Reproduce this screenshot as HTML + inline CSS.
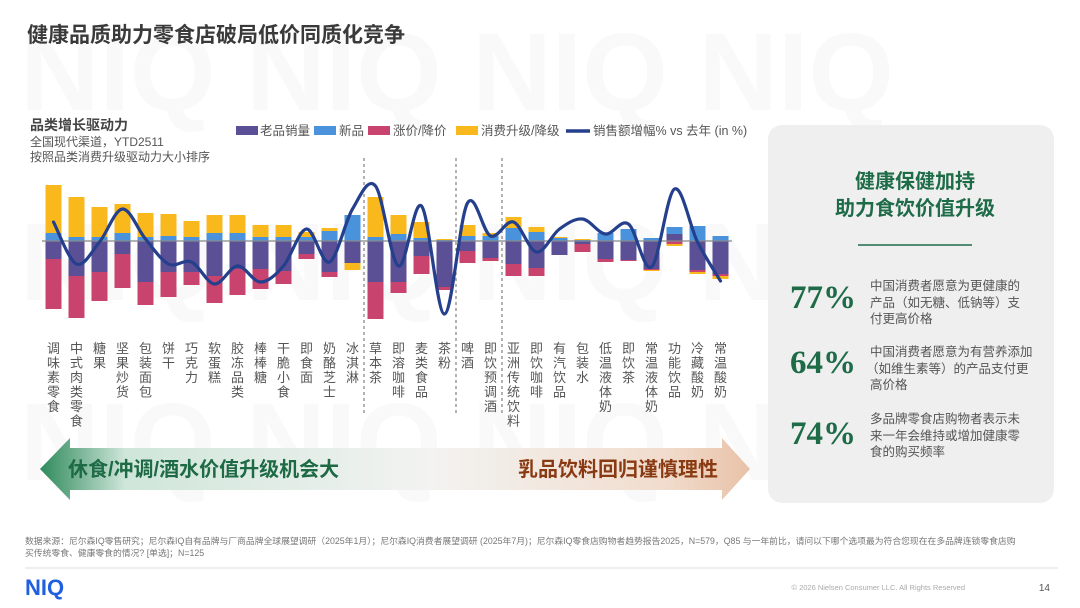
<!DOCTYPE html>
<html><head><meta charset="utf-8">
<style>
html,body{margin:0;padding:0;background:#fff;}
body{width:1080px;height:608px;position:relative;overflow:hidden;font-family:"Liberation Sans","Noto Sans CJK SC",sans-serif;}
svg{position:absolute;left:0;top:0;}
</style></head>
<body>
<svg id="page" width="1080" height="608" viewBox="0 0 1080 608">
<defs>
<linearGradient id="arrowGrad" x1="0" x2="1" y1="0" y2="0">
<stop offset="0" stop-color="#2f8a5c"/><stop offset="0.12" stop-color="#cfe6da"/>
<stop offset="0.55" stop-color="#f3f3f1"/><stop offset="0.88" stop-color="#f1dccd"/><stop offset="1" stop-color="#e8c2a8"/>
</linearGradient>
</defs>
<g fill="#f9f9f9" font-weight="bold" font-size="110" font-family="Liberation Sans, sans-serif">
<text x="20" y="110">NIQ NIQ NIQ NIQ</text>
<text x="20" y="300">NIQ NIQ NIQ NIQ</text>
<text x="20" y="480">NIQ NIQ NIQ NIQ</text>
</g>
<text x="27" y="42" font-size="21" font-weight="bold" fill="#3a3a3a">健康品质助力零食店破局低价同质化竞争</text>

<text x="30" y="130" font-size="14" font-weight="bold" fill="#444">品类增长驱动力</text>
<text x="30" y="146" font-size="12" fill="#555">全国现代渠道，YTD2511</text>
<text x="30" y="161" font-size="12" fill="#555">按照品类消费升级驱动力大小排序</text>

<g id="legend" font-size="12.5" fill="#555">
<rect x="236" y="126" width="22" height="9" fill="#5b4f96"/>
<text x="260" y="135">老品销量</text>
<rect x="314" y="126" width="22" height="9" fill="#4a93dc"/>
<text x="339" y="135">新品</text>
<rect x="368" y="126" width="22" height="9" fill="#c8446f"/>
<text x="393" y="135">涨价/降价</text>
<rect x="456" y="126" width="22" height="9" fill="#f9b91c"/>
<text x="481" y="135">消费升级/降级</text>
<line x1="566" y1="131" x2="590" y2="131" stroke="#243f8c" stroke-width="3.5"/>
<text x="593" y="135">销售额增幅% vs 去年 (in %)</text>
</g>

<g id="chart"></g>

<g>
<polygon points="40,469 70,438 70,448 722,448 722,438 750,469 722,500 722,490 70,490 70,500" fill="url(#arrowGrad)"/>
<text x="68" y="476" font-size="20" font-weight="bold" fill="#1d6a45">休食/冲调/酒水价值升级机会大</text>
<text x="718" y="476" text-anchor="end" font-size="20" font-weight="bold" fill="#8a3a12">乳品饮料回归谨慎理性</text>
</g>

<g>
<rect x="768" y="125" width="286" height="378" rx="14" fill="#efefef"/>
<text x="915" y="188" text-anchor="middle" font-size="20" font-weight="bold" fill="#1e6b48">健康保健加持</text>
<text x="915" y="215" text-anchor="middle" font-size="20" font-weight="bold" fill="#1e6b48">助力食饮价值升级</text>
<line x1="858" y1="245" x2="972" y2="245" stroke="#1e6b48" stroke-width="1.5"/>
<g font-family="Liberation Serif, serif" font-weight="bold" font-size="33" fill="#1e6b48">
<text x="790" y="308">77%</text>
<text x="790" y="373">64%</text>
<text x="790" y="444">74%</text>
</g>
<g font-size="12.5" fill="#555">
<text><tspan x="870" y="290">中国消费者愿意为更健康的</tspan><tspan x="870" y="307">产品（如无糖、低钠等）支</tspan><tspan x="870" y="323">付更高价格</tspan></text>
<text><tspan x="870" y="356">中国消费者愿意为有营养添加</tspan><tspan x="866" y="373">（如维生素等）的产品支付更</tspan><tspan x="870" y="389">高价格</tspan></text>
<text><tspan x="870" y="423">多品牌零食店购物者表示未</tspan><tspan x="870" y="440">来一年会维持或增加健康零</tspan><tspan x="870" y="456">食的购买频率</tspan></text>
</g>
</g>

<g>
<text font-size="8.8" fill="#777"><tspan x="25" y="544">数据来源：尼尔森IQ零售研究；尼尔森IQ自有品牌与厂商品牌全球展望调研（2025年1月）；尼尔森IQ消费者展望调研 (2025年7月)；尼尔森IQ零食店购物者趋势报告2025，N=579，Q85 与一年前比，请问以下哪个选项最为符合您现在在多品牌连锁零食店购</tspan><tspan x="25" y="556">买传统零食、健康零食的情况? [单选]；N=125</tspan></text>
<line x1="25" y1="568" x2="1058" y2="568" stroke="#ddd" stroke-width="1"/>
<text x="25" y="595" font-size="22" font-weight="bold" fill="#1f5fe0">NIQ</text>
<text x="965" y="590" text-anchor="end" font-size="7.5" fill="#aaa">© 2026 Nielsen Consumer LLC. All Rights Reserved</text>
<text x="1050" y="591" text-anchor="end" font-size="10" fill="#555">14</text>
</g>
</svg>
<script>
const categories = ["调味素零食","中式肉类零食","糖果","坚果炒货","包装面包","饼干","巧克力","软蛋糕","胶冻品类","棒棒糖","干脆小食","即食面","奶酪芝士","冰淇淋","草本茶","即溶咖啡","麦类食品","茶粉","啤酒","即饮预调酒","亚洲传统饮料","即饮咖啡","有汽饮品","包装水","低温液体奶","即饮茶","常温液体奶","功能饮品","冷藏酸奶","常温酸奶"];
const existingVolume = [-18,-35,-31,-13,-41,-31,-31,-35,-28,-28,-30,-13,-31,-22,-41,-41,-15,-46,-10,-17,-23,-27,-14,-3,-18,-19,-28,7,-29,-33];
const newProducts = [8,4,4,8,4,5,4,8,8,4,4,4,10,26,4,7,3,1,5,5,13,9,3,1,8,12,3,7,15,5];
const priceEffect = [-50,-42,-29,-34,-23,-25,-13,-27,-26,-20,-13,-5,-5,0,-37,-11,-18,-3,-12,-3,-12,-8,0,-8,-3,-1,-1,-3,-2,-2];
const upgradeEffect = [48,40,30,29,24,22,16,18,18,12,12,5,3,-7,40,19,16,1,11,3,11,5,1,1,0,0,-1,-2,-2,-3];
const salesGrowth = [19,-23,-1,32,2,-23,-21,-43,-25,-41,-25,12,-21,32,55,-25,35,-73,38,5,19,-11,12,22,7,17,-26,52,-1,-40];
const dividerAfter = [13,17,19];

const NS = "http://www.w3.org/2000/svg";
const chart = document.getElementById("chart");
const x0 = 53.5, step = 23, barW = 16, zeroY = 241, pxPerUnit = 1;
const xScale = i => x0 + i * step;
const yScale = v => zeroY - v * pxPerUnit;
function mk(tag, attrs){const e=document.createElementNS(NS,tag);for(const k in attrs)e.setAttribute(k,attrs[k]);chart.appendChild(e);return e;}

dividerAfter.forEach((d,j)=>{
  const x = (xScale(d)+xScale(d+1))/2;
  const l = mk("line",{x1:x,y1:158,x2:x,y2:415,stroke:"#666","stroke-width":1,"stroke-dasharray":"3,3"});
  
  
});

const series = [
  {vals: existingVolume, color:"#5b4f96", name:"existing-volume"},
  {vals: newProducts, color:"#4a93dc", name:"new-products"},
  {vals: priceEffect, color:"#c8446f", name:"price-effect"},
  {vals: upgradeEffect, color:"#f9b91c", name:"upgrade-effect"}
];
categories.forEach((c,i)=>{
  let pos=0, neg=0;
  series.forEach(s=>{
    const v = s.vals[i];
    if (!v) return;
    let yTop, h;
    if (v>0){ yTop = yScale(pos+v); h = yScale(pos)-yTop; pos+=v; }
    else { yTop = yScale(neg); h = yScale(neg+v)-yTop; neg+=v; }
    const r = mk("rect",{x:xScale(i)-barW/2,y:yTop,width:barW,height:h,fill:s.color});
    
    
  });
  const t = mk("text",{x:xScale(i),y:353,"font-size":13,fill:"#555","text-anchor":"middle"});
  
  
  [...c].forEach((ch,k)=>{
    const ts=document.createElementNS(NS,"tspan");
    ts.setAttribute("x",xScale(i)); ts.setAttribute("y",353+k*14.5); ts.textContent=ch; t.appendChild(ts);
  });
});

const zl = mk("line",{x1:42,y1:zeroY,x2:732,y2:zeroY,stroke:"#888","stroke-width":1.2});



const pts = salesGrowth.map((v,i)=>[xScale(i), yScale(v)]);
let d = "M"+pts[0][0]+","+pts[0][1];
for (let i=0;i<pts.length-1;i++){
  const p0=pts[Math.max(i-1,0)],p1=pts[i],p2=pts[i+1],p3=pts[Math.min(i+2,pts.length-1)];
  const t=1/3;
  d+=" C"+(p1[0]+(p2[0]-p0[0])*t/2)+","+(p1[1]+(p2[1]-p0[1])*t/2)+" "+(p2[0]-(p3[0]-p1[0])*t/2)+","+(p2[1]-(p3[1]-p1[1])*t/2)+" "+p2[0]+","+p2[1];
}
const path = mk("path",{d:d,fill:"none",stroke:"#243f8c","stroke-width":3.2,"stroke-linecap":"round"});


</script>
</body></html>
